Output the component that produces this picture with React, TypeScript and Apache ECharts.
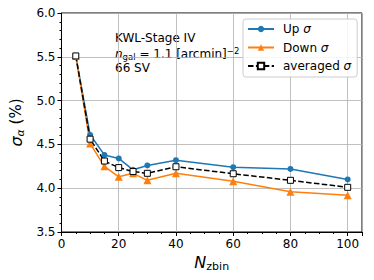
import React, { useEffect, useRef } from "react";
import * as echarts from "echarts";

const nzbin = [5, 10, 15, 20, 25, 30, 40, 60, 80, 100];
const upSigma = [5.51, 4.61, 4.38, 4.34, 4.21, 4.26, 4.32, 4.24, 4.22, 4.1];
const downSigma = [5.51, 4.51, 4.25, 4.13, 4.17, 4.09, 4.17, 4.08, 3.96, 3.92];
const avgSigma = [5.51, 4.56, 4.31, 4.235, 4.19, 4.17, 4.245, 4.165, 4.09, 4.01];

const FONT = "DejaVu Sans";

export default function App() {
  const ref = useRef<HTMLDivElement>(null);
  useEffect(() => {
    if (!ref.current) return;
    const chart = echarts.init(ref.current, undefined, { renderer: "svg" });
    const pair = (ys: number[]) => nzbin.map((x, i) => [x, ys[i]]);
    chart.setOption({
      animation: false,
      backgroundColor: "#ffffff",
      textStyle: { fontFamily: FONT },
      grid: {
        left: 56,
        right: 12,
        top: 13,
        bottom: 48,
        show: true,
        borderColor: "#000",
        borderWidth: 1,
        backgroundColor: "transparent",
      },
      xAxis: {
        type: "value",
        min: 0,
        max: 105,
        interval: 20,
        name: "{n|N}{s|zbin}",
        nameLocation: "middle",
        nameGap: 18,
        nameTextStyle: {
          fontFamily: FONT,
          fontSize: 16,
          rich: {
            n: { fontFamily: FONT, fontSize: 16, fontStyle: "italic", color: "#000" },
            s: { fontFamily: FONT, fontSize: 11, color: "#000", padding: [8, 0, 0, 0] },
          },
        },
        axisLine: { show: true, lineStyle: { color: "#000", width: 1 } },
        axisTick: { show: true, length: 4, lineStyle: { color: "#000" } },
        minorTick: { show: true, splitNumber: 4, length: 2, lineStyle: { color: "#000" } },
        axisLabel: {
          showMaxLabel: false,
          fontFamily: FONT,
          fontSize: 12,
          color: "#000",
          margin: 6,
        },
        splitLine: { show: true, lineStyle: { color: "#b0b0b0", width: 0.8 } },
      },
      yAxis: {
        type: "value",
        min: 3.5,
        max: 6.0,
        interval: 0.5,
        name: "{s|σ}{a|α}{p| (%)}",
        nameLocation: "middle",
        nameRotate: 90,
        nameGap: 29,
        nameTextStyle: {
          fontFamily: FONT,
          fontSize: 15,
          rich: {
            s: { fontFamily: FONT, fontSize: 16, fontStyle: "italic", color: "#000" },
            a: { fontFamily: FONT, fontSize: 11, fontStyle: "italic", color: "#000", padding: [8, 0, 0, 0] },
            p: { fontFamily: FONT, fontSize: 15, color: "#000" },
          },
        },
        axisLine: { show: true, lineStyle: { color: "#000", width: 1 } },
        axisTick: { show: true, length: 4, lineStyle: { color: "#000" } },
        minorTick: { show: true, splitNumber: 5, length: 2, lineStyle: { color: "#000" } },
        axisLabel: {
          fontFamily: FONT,
          fontSize: 12,
          color: "#000",
          margin: 6,
          formatter: (v: number) => v.toFixed(1),
        },
        splitLine: { show: true, lineStyle: { color: "#b0b0b0", width: 0.8 } },
      },
      legend: {
        orient: "vertical",
        left: 243,
        top: 19,
        padding: [3, 6, 4, 4],
        itemGap: 4.5,
        itemWidth: 26,
        itemHeight: 8,
        backgroundColor: "rgba(255,255,255,0.85)",
        borderColor: "#cccccc",
        borderWidth: 1,
        borderRadius: 3,
        textStyle: {
          fontFamily: FONT,
          fontSize: 12,
          lineHeight: 14,
          color: "#000",
          rich: {
            t: { fontFamily: FONT, fontSize: 12, lineHeight: 14, color: "#000", padding: [0, 0, 0, 4] },
            g: { fontFamily: FONT, fontSize: 12, lineHeight: 14, fontStyle: "italic", color: "#000" },
          },
        },
        formatter: (name: string) => {
          const parts = name.split(" ");
          return `{t|${parts[0]} }{g|${parts[1]}}`;
        },
        data: ["Up σ", "Down σ", "averaged σ"],
      },
      graphic: [
        {
          type: "text",
          left: 115,
          top: 32,
          style: { text: "KWL-Stage IV", fontFamily: FONT, fontSize: 12, fill: "#000" },
        },
        {
          type: "text",
          left: 115,
          top: 46,
          style: {
            text: "{i|n}{sub|gal}{t| = 1.1 [arcmin]}{sup|−2}",
            fill: "#000",
            rich: {
              i: { fontFamily: FONT, fontSize: 12, fontStyle: "italic", fill: "#000" },
              sub: { fontFamily: FONT, fontSize: 8.5, fill: "#000", padding: [5, 0, 0, 0] },
              t: { fontFamily: FONT, fontSize: 12, fill: "#000" },
              sup: { fontFamily: FONT, fontSize: 8.5, fill: "#000", padding: [0, 0, 7, 0] },
            },
          },
        },
        {
          type: "text",
          left: 115,
          top: 62,
          style: { text: "66 SV", fontFamily: FONT, fontSize: 12, fill: "#000" },
        },
      ],
      series: [
        {
          name: "Up σ",
          type: "line",
          data: pair(upSigma),
          symbol: "circle",
          symbolSize: 6,
          color: "#1f77b4",
          lineStyle: { color: "#1f77b4", width: 1.5 },
          itemStyle: { color: "#1f77b4" },
        },
        {
          name: "Down σ",
          type: "line",
          data: pair(downSigma),
          symbol: "triangle",
          symbolSize: 8,
          color: "#ff7f0e",
          lineStyle: { color: "#ff7f0e", width: 1.5 },
          itemStyle: { color: "#ff7f0e" },
        },
        {
          name: "averaged σ",
          type: "line",
          data: pair(avgSigma),
          symbol: "rect",
          symbolSize: 6,
          color: "#000",
          lineStyle: { color: "#000", width: 1.5, type: [5.5, 2.4] },
          itemStyle: { color: "#ffffff", borderColor: "#000", borderWidth: 1 },
        },
      ],
    });
    return () => chart.dispose();
  }, []);
  return <div ref={ref} style={{ width: 374, height: 280, position: "absolute", left: 0, top: 0 }} />;
}
